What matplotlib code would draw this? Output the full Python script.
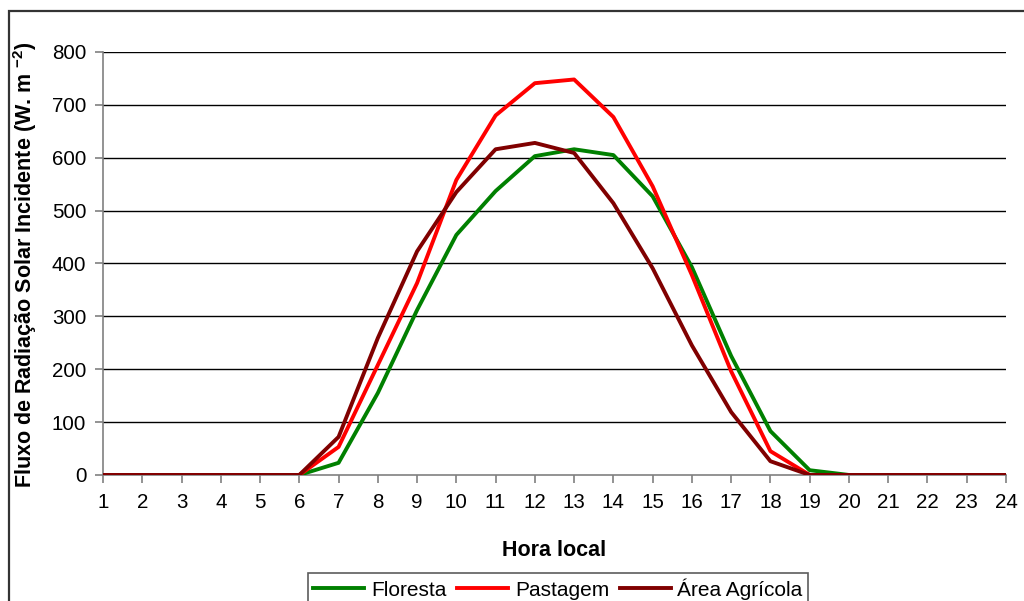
import matplotlib
matplotlib.use('Agg')
from matplotlib import pyplot as plt
from matplotlib.patches import Rectangle

plt.rcParams['font.family'] = ['Liberation Sans', 'DejaVu Sans']
plt.rcParams['mathtext.fontset'] = 'custom'
plt.rcParams['mathtext.rm'] = 'Liberation Sans'
plt.rcParams['mathtext.bf'] = 'Liberation Sans:bold'
plt.rcParams['mathtext.default'] = 'bf'

horas = list(range(1, 25))
floresta = [0, 0, 0, 0, 0, 0, 23, 155, 312, 454, 537, 603, 616, 605, 527, 393, 225, 83, 9, 0, 0, 0, 0, 0]
pastagem = [0, 0, 0, 0, 0, 0, 53, 208, 363, 558, 680, 741, 748, 677, 546, 378, 196, 45, 0, 0, 0, 0, 0, 0]
agricola = [0, 0, 0, 0, 0, 0, 72, 259, 423, 535, 616, 628, 609, 514, 391, 245, 119, 26, 0, 0, 0, 0, 0, 0]

fig = plt.figure(figsize=(10.24, 6.01), dpi=100)
ax = fig.add_axes([0.1006, 0.2097, 0.8818, 0.7038])

# moldura externa
fig.patches.append(Rectangle((9 / 1024, -0.1), 1.2, 1 - 11 / 601 + 0.1, transform=fig.transFigure,
                             fill=False, edgecolor='#333333', linewidth=1.6))

for y in range(100, 801, 100):
    ax.axhline(y, color='black', linewidth=1.0, zorder=1)

ax.plot(horas, floresta, color='#008000', linewidth=2.8, label='Floresta', zorder=3)
ax.plot(horas, pastagem, color='#ff0000', linewidth=2.8, label='Pastagem', zorder=3)
ax.plot(horas, agricola, color='#800000', linewidth=2.8, label='Área Agrícola', zorder=3)

ax.set_xlim(1, 24)
ax.set_ylim(0, 800)
ax.set_xticks(horas)
ax.set_yticks(range(0, 801, 100))
ax.tick_params(axis='both', labelsize=14.8, color='#808080', length=6, width=1.2)
ax.tick_params(axis='y', pad=6)
ax.tick_params(axis='x', pad=7)
for s in ['top', 'right']:
    ax.spines[s].set_visible(False)
ax.spines['left'].set_color('#808080')
ax.spines['bottom'].set_color('#808080')
ax.spines['left'].set_linewidth(1.2)
ax.spines['bottom'].set_linewidth(1.2)

ax.set_xlabel('Hora local', fontsize=15.5, fontweight='bold', labelpad=20)
ax.set_ylabel('Fluxo de Radiação Solar Incidente (W. m $^{-2}$)', fontsize=15.5, fontweight='bold')
ax.yaxis.set_label_coords(-0.071, 0.496)

leg = fig.legend(loc='center', bbox_to_anchor=(558 / 1024, 1 - 589 / 601), ncol=3, fontsize=15,
                 frameon=True, fancybox=False, edgecolor='#333333', handlelength=2.45, columnspacing=0.5,
                 handletextpad=0.33, borderpad=0.25, borderaxespad=0)
leg.get_frame().set_linewidth(1.2)

plt.savefig('out.png', dpi=100)
